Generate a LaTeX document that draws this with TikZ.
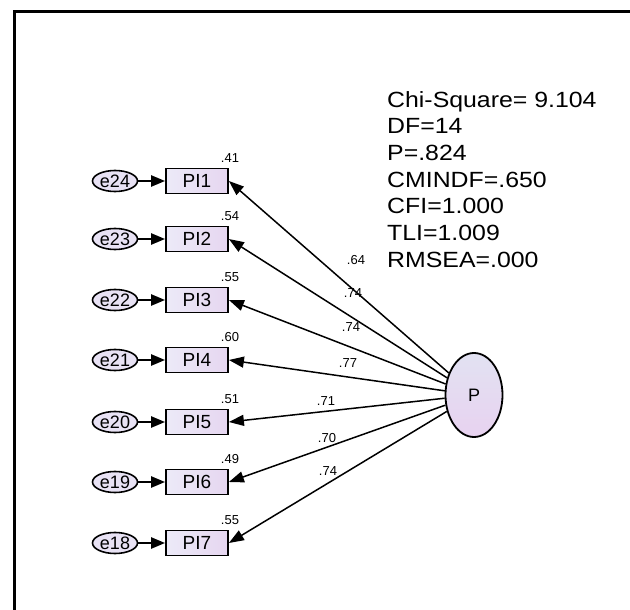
\documentclass[tikz,border=0pt]{standalone}
\usepackage{fontspec}
\setmainfont{Liberation Sans}
\newfontfamily\statfont[FakeStretch=1.13]{Liberation Sans}
\usetikzlibrary{arrows.meta,shapes.geometric}
\definecolor{boxL}{HTML}{ECEAF8}
\definecolor{boxR}{HTML}{E6D6F0}
\definecolor{errfill}{HTML}{E8E2F4}
\definecolor{latT}{HTML}{E2E2F2}
\definecolor{latB}{HTML}{E8D2F0}
\begin{document}
\begin{tikzpicture}[x=1pt,y=-1pt,
  obs/.style={draw, line width=1.8pt, minimum width=62pt, minimum height=25pt, inner sep=0pt,
    left color=boxL, right color=boxR, font=\fontsize{19}{19}\selectfont},
  err/.style={ellipse, draw, line width=1.6pt, minimum width=45pt, minimum height=21pt, inner sep=0pt,
    fill=errfill, font=\fontsize{18}{18}\selectfont},
  lat/.style={ellipse, draw, line width=1.8pt, minimum width=57pt, minimum height=84pt, inner sep=0pt,
    top color=latT, bottom color=latB, font=\fontsize{18}{18}\selectfont},
  reg/.style={line width=1.5pt, -{Triangle[length=15pt,width=11pt]}},
  erra/.style={line width=2.5pt, -{Triangle[length=14pt,width=11pt]}},
  lbl/.style={font=\fontsize{13}{13}\selectfont, inner sep=0pt},
  r2/.style={font=\fontsize{13}{13}\selectfont, inner sep=0pt}]
\useasboundingbox (0,0) rectangle (630,610);
\draw[line width=3pt] (14,610) -- (14,12) -- (630,12);

\node[lat] (P) at (474,395) {P};

\foreach \i/\e/\y/\r in {1/24/181/.41, 2/23/239/.54, 3/22/300/.55, 4/21/360/.60, 5/20/422/.51, 6/19/482/.49, 7/18/543/.55}{
  \node[obs] (PI\i) at (197,\y) {PI\i};
  \node[err] (e\e) at (115,\y) {e\e};
  \draw[erra] (e\e) -- (PI\i);
  \draw[reg] (P) -- (PI\i.east);
  \node[r2] (r\i) at (230,\y-23) {\r};
}

\node[lbl] (l1) at (356,260) {.64};
\node[lbl] (l2) at (353,293) {.74};
\node[lbl] (l3) at (351,327) {.74};
\node[lbl] (l4) at (348,363) {.77};
\node[lbl] (l5) at (326,401) {.71};
\node[lbl] (l6) at (327,438) {.70};
\node[lbl] (l7) at (328,471) {.74};

\node[anchor=north west, align=left, inner sep=0pt,
  font=\statfont\fontsize{22}{26.7}\selectfont] (fit) at (387,91)
  {Chi-Square= 9.104\\DF=14\\P=.824\\CMINDF=.650\\CFI=1.000\\TLI=1.009\\RMSEA=.000};
\end{tikzpicture}
\end{document}
